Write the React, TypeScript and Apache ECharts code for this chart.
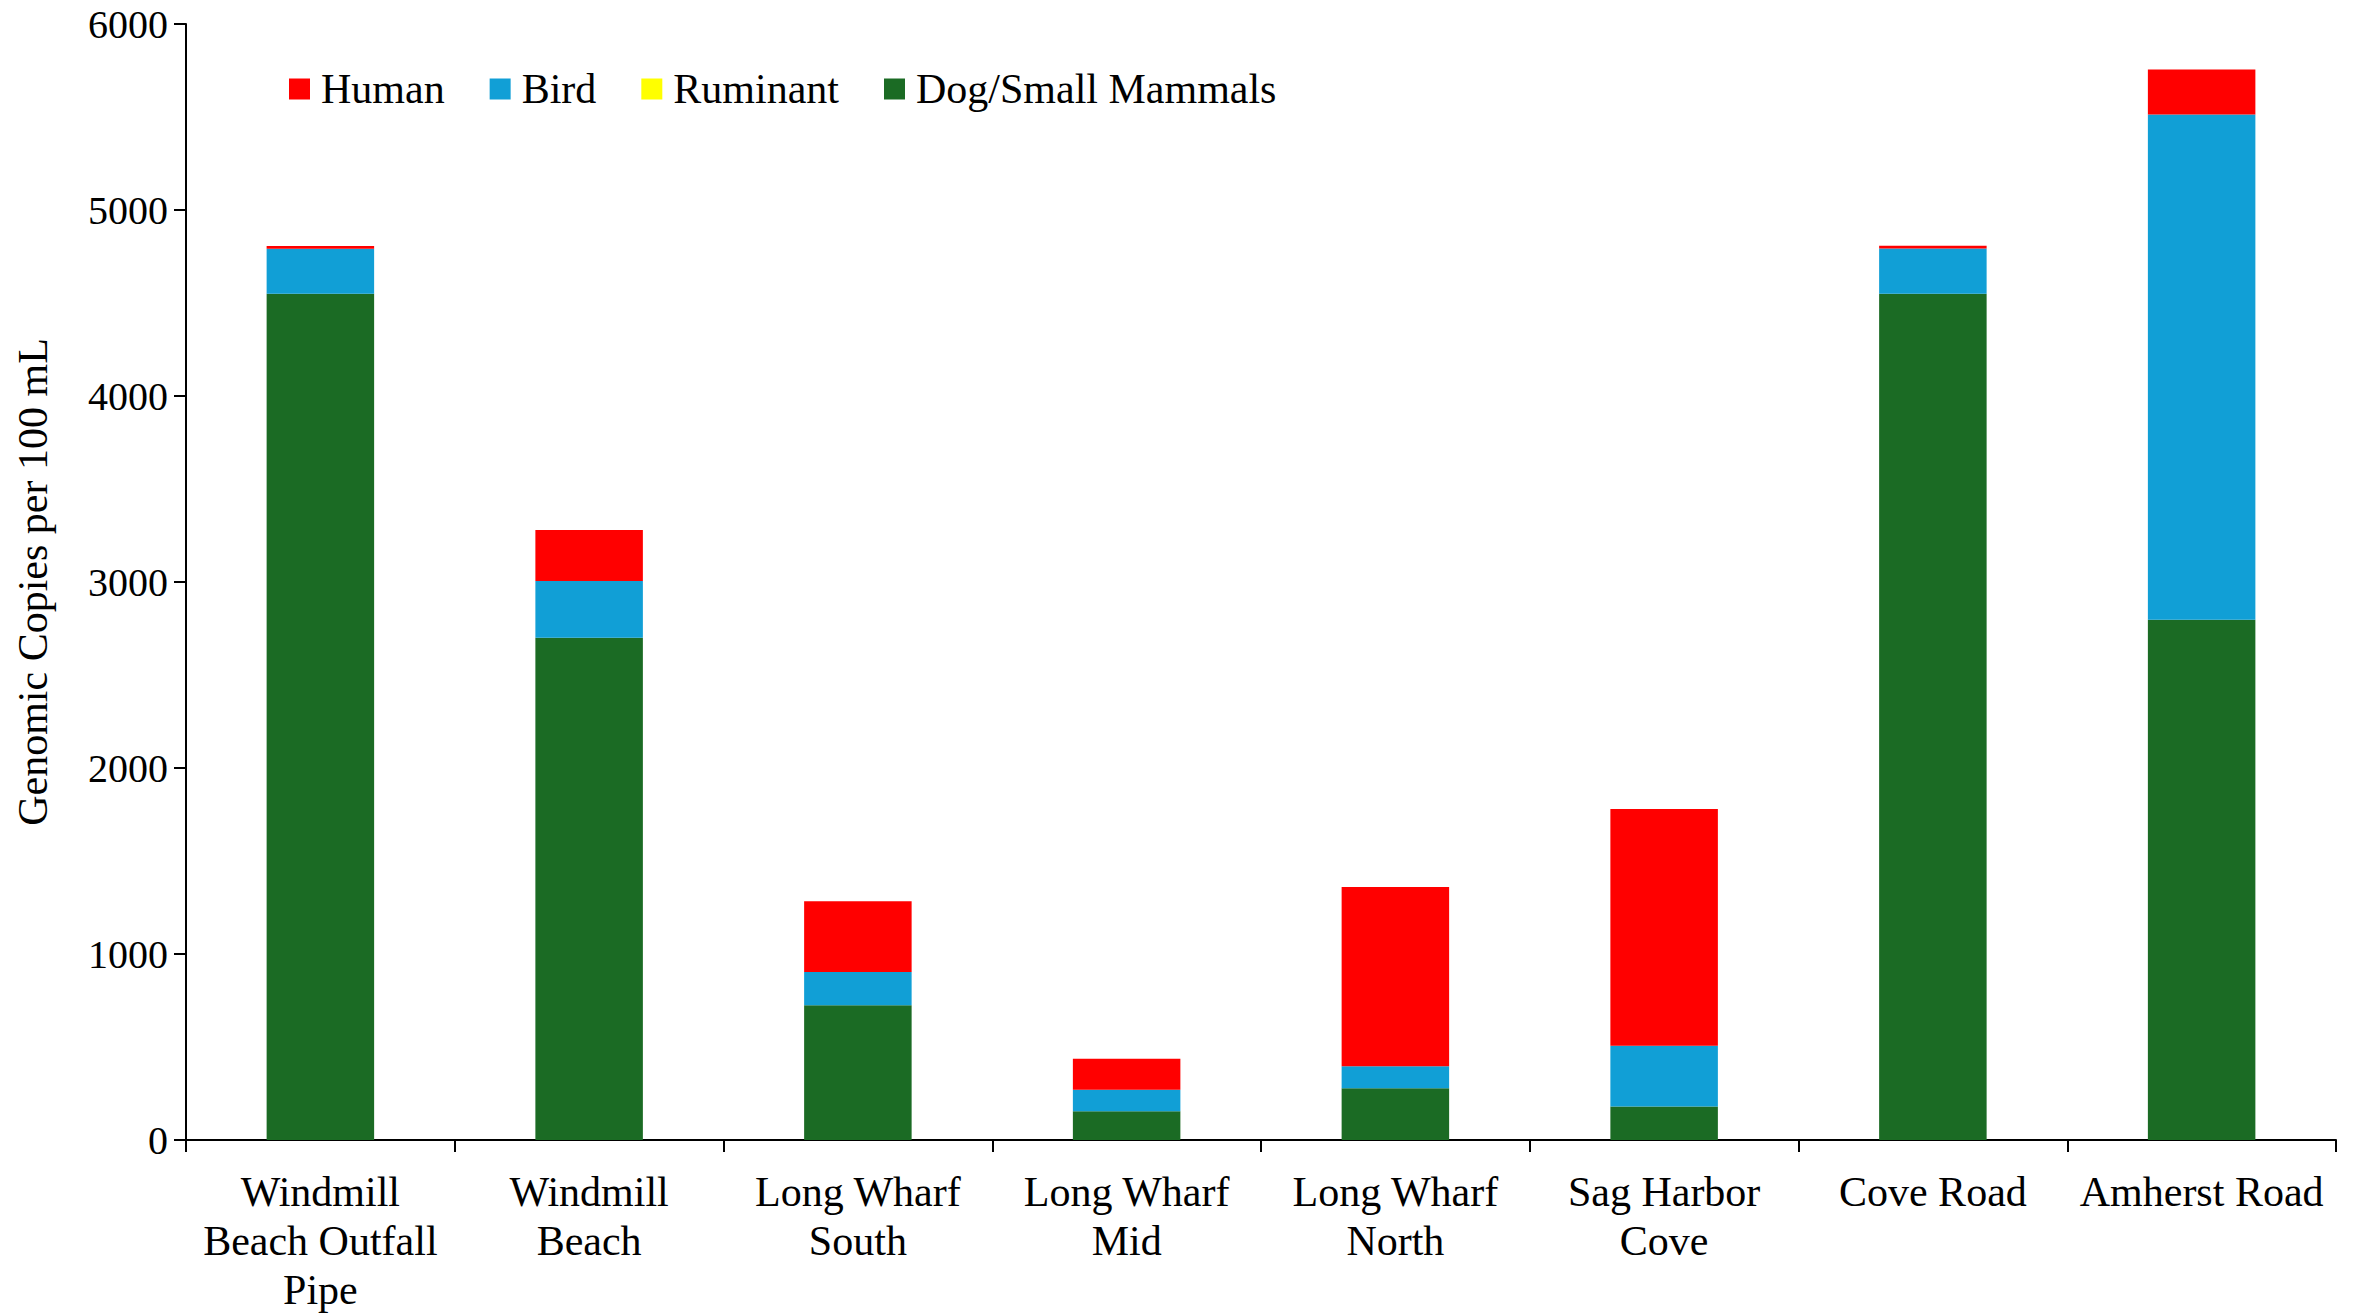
import React, { useEffect, useRef } from "react";
import * as echarts from "echarts";

const categories = [
  "Windmill\nBeach Outfall\nPipe",
  "Windmill\nBeach",
  "Long Wharf\nSouth",
  "Long Wharf\nMid",
  "Long Wharf\nNorth",
  "Sag Harbor\nCove",
  "Cove Road",
  "Amherst Road",
];

const dogSmallMammals = [4550, 2700, 725, 154, 278, 180, 4550, 2797];
const ruminant = [0, 0, 0, 0, 0, 0, 0, 0];
const bird = [242, 306, 178, 116, 118, 327, 243, 2717];
const human = [15, 274, 380, 167, 964, 1273, 15, 241];

const yTicks = { min: 0, max: 6000, interval: 1000 };
const legendOrder = ["Human", "Bird", "Ruminant", "Dog/Small Mammals"];

const FONT = "'Liberation Serif', 'Times New Roman', serif";

export default function App() {
  const ref = useRef<HTMLDivElement>(null);
  useEffect(() => {
    if (!ref.current) return;
    const chart = echarts.init(ref.current, undefined, { renderer: "svg" });
    const barBase = {
      type: "bar" as const,
      stack: "total",
      barCategoryGap: "60%",
    };
    chart.setOption({
      animation: false,
      backgroundColor: "#ffffff",
      textStyle: { fontFamily: FONT, color: "#000" },
      grid: { left: 186, right: 22, top: 24, bottom: 165, containLabel: false },
      legend: {
        data: legendOrder,
        left: 284,
        top: 63,
        itemWidth: 21,
        itemHeight: 21,
        itemGap: 45,
        icon: "rect",
        textStyle: { fontFamily: FONT, fontSize: 42, color: "#000", padding: [0, 0, 0, 6] },
      },
      xAxis: {
        type: "category",
        data: categories,
        axisLine: { lineStyle: { color: "#000", width: 2 } },
        axisTick: { show: true, length: 12, lineStyle: { color: "#000", width: 2 } },
        axisLabel: {
          interval: 0,
          margin: 27,
          fontFamily: FONT,
          fontSize: 42,
          lineHeight: 49,
          color: "#000",
          align: "center",
        },
      },
      yAxis: {
        type: "value",
        min: yTicks.min,
        max: yTicks.max,
        interval: yTicks.interval,
        name: "Genomic Copies per 100 mL",
        nameLocation: "middle",
        nameGap: 132,
        nameTextStyle: { fontFamily: FONT, fontSize: 42, color: "#000" },
        splitLine: { show: false },
        axisLine: { show: true, lineStyle: { color: "#000", width: 2 } },
        axisTick: { show: true, length: 12, lineStyle: { color: "#000", width: 2 } },
        axisLabel: {
          margin: 18,
          fontFamily: FONT,
          fontSize: 40,
          color: "#000",
          formatter: (v: number) => String(v),
        },
      },
      series: [
        { ...barBase, name: "Dog/Small Mammals", data: dogSmallMammals, itemStyle: { color: "#1B6B24" } },
        { ...barBase, name: "Ruminant", data: ruminant, itemStyle: { color: "#FFFF00" } },
        { ...barBase, name: "Bird", data: bird, itemStyle: { color: "#119FD6" } },
        { ...barBase, name: "Human", data: human, itemStyle: { color: "#FF0000" } },
      ],
    });
    return () => chart.dispose();
  }, []);
  return (
    <div
      ref={ref}
      style={{ position: "fixed", left: 0, top: 0, width: 2358, height: 1314, background: "#fff" }}
    />
  );
}
